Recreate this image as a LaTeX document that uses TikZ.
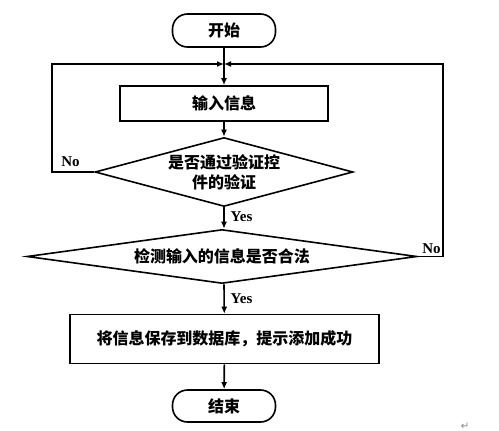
\documentclass[tikz,border=0pt]{standalone}
\usepackage{fontspec}
\setmainfont{Liberation Serif}
\newfontfamily\cjk{Noto Sans CJK SC}
\newfontfamily\symfont{DejaVu Sans}
\usetikzlibrary{shapes.geometric,arrows.meta}
\tikzset{
  every node/.style={inner sep=0pt},
  flow/.style={line width=1.6pt},
  arr/.style={flow,-{Latex[length=7pt,width=6pt]}},
  term/.style={draw,flow,rounded corners=15pt,minimum width=103pt,font=\cjk\bfseries\fontsize{16}{20}\selectfont},
  procbox/.style={draw,flow,font=\cjk\bfseries\fontsize{16}{20}\selectfont},
  decide/.style={draw,flow,shape=diamond,align=center,font=\cjk\bfseries\fontsize{16}{20}\selectfont},
  yn/.style={font=\bfseries\fontsize{15}{17}\selectfont}
}
\begin{document}
\begin{tikzpicture}[x=1pt,y=-1pt]
\useasboundingbox (0,0) rectangle (499,431);
\node[term,minimum height=33pt] (start) at (224,30.5) {开始};
\node[procbox,minimum width=208pt,minimum height=35pt] (input) at (224,103.5) {输入信息};
\node[decide,shape aspect=3.74,minimum width=258pt,minimum height=69pt] (d1) at (224,172) {是否通过验证控\\件的验证};
\node[decide,shape aspect=7.2,minimum width=390pt,minimum height=54pt] (d2) at (222,256.5) {检测输入的信息是否合法};
\node[procbox,minimum width=309pt,minimum height=49pt] (save) at (224.5,339) {将信息保存到数据库，提示添加成功};
\node[term,minimum height=32pt] (stop) at (224,406) {结束};
\coordinate (j) at (224,64);
\draw[arr] (start) -- (input);
\draw[arr] (input) -- (d1);
\draw[arr] (d1.south) -- (d1.south |- d2.north);
\draw[arr] (d2.south -| d1.south) -- (save);
\draw[arr] (save) -- (stop);
\coordinate (lx) at ([xshift=-42pt]d1.west);
\coordinate (rx) at (443,256.5);
\draw[arr] (d1.west) -- (lx) |- (j);
\draw[arr] (d2.east) -- (rx) |- (j);
\node[yn] (no1) at (70.5,162) {No};
\node[yn] (yes1) at (241.5,217) {Yes};
\node[yn] (no2) at (431.5,248.5) {No};
\node[yn] (yes2) at (241.5,299) {Yes};
\node[text=gray,font=\symfont\fontsize{10}{12}\selectfont] (ret) at (465,426) {↵};
\end{tikzpicture}
\end{document}
